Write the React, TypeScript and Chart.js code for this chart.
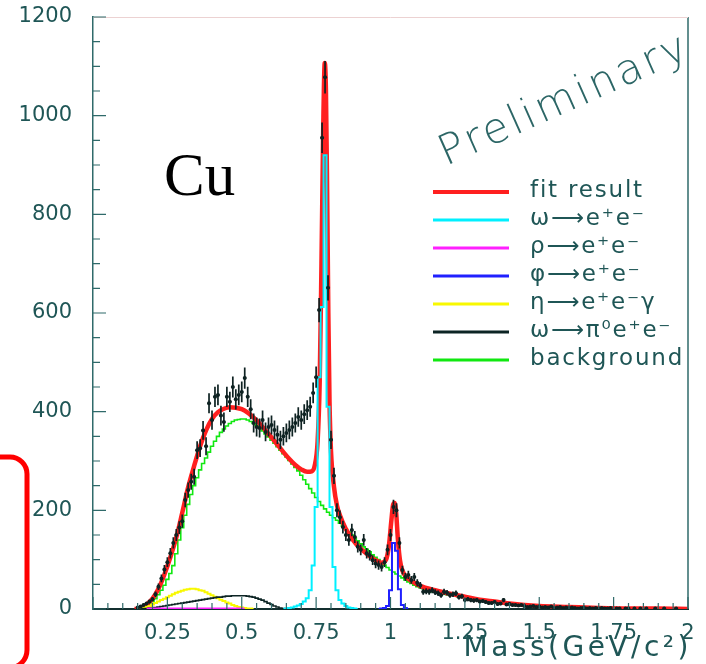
import { useEffect, useRef } from 'react';
import { Chart, registerables } from 'chart.js';

Chart.register(...registerables);

const W = 706;
const H = 664;
const BIN = 0.01;

// Measured data (counts per 0.01 GeV bin, bin centres from 0.15 to 2.00)
const DATA_LO = 0.15;
const DATA_COUNTS = [
  3, 5, 8, 11, 15,
  20, 30, 45, 62, 80, 95, 113, 134, 150, 165,
  178, 221, 241, 258, 268, 322, 326, 362, 330, 417,
  383, 430, 434, 392, 379, 430, 420, 450, 425, 434,
  440, 468, 430, 405, 377, 369, 367, 383, 359, 369,
  373, 363, 353, 343, 350, 357, 363, 369, 377, 389,
  383, 395, 403, 410, 438, 470, 606, 955, 1078, 651,
  343, 270, 200, 186, 166, 150, 140, 160, 146, 126,
  120, 140, 113, 109, 99, 92, 89, 85, 95, 120,
  150, 207, 200, 134, 79, 65, 69, 59, 65, 53,
  48, 35, 36, 35, 38, 34, 32, 28, 35, 33,
  28, 30, 32, 24, 26, 18, 20, 18, 17, 18,
  15, 16, 14, 12, 12, 14, 10, 11, 18, 9,
  10, 8, 8, 7, 8, 6, 4, 5, 6, 4,
  5, 3, 4, 3, 5, 2, 3, 4, 2, 3,
  2, 3, 2, 1, 2, 3, 1, 2, 1, 2,
  1, 2, 1, 1, 2, 0, 1, 1, 0, 1,
  1, 0, 1, 0, 1, 0, 1, 0, 0, 1,
  0, 0, 1, 0, 0, 0, 1, 0, 0, 0, 0,
];

// Fit result curve
const FIT_MASS = [
  0.14, 0.16, 0.18, 0.2, 0.22, 0.24, 0.26, 0.28, 0.3, 0.32, 0.34, 0.36, 0.38, 0.4,
  0.42, 0.44, 0.46, 0.48, 0.5, 0.52, 0.54, 0.56, 0.58, 0.6, 0.62, 0.64, 0.66, 0.68,
  0.7, 0.72, 0.735, 0.745, 0.755, 0.762, 0.768, 0.774, 0.779, 0.783, 0.787, 0.791,
  0.795, 0.8, 0.81, 0.82, 0.83, 0.85, 0.87, 0.89, 0.91, 0.93, 0.95, 0.97, 0.985,
  0.995, 1.003, 1.009, 1.014, 1.019, 1.025, 1.032, 1.04, 1.05, 1.07, 1.1, 1.15, 1.2,
  1.25, 1.3, 1.35, 1.4, 1.45, 1.5, 1.6, 1.7, 1.8, 1.9, 2.0,
];
const FIT_VALUES = [
  0, 2, 9, 21, 41, 70, 105, 145, 195, 247, 290, 330, 362, 385,
  399, 406, 409, 408, 405, 398, 388, 376, 362, 348, 333, 318, 304, 292,
  283, 278, 279, 290, 340, 460, 700, 980, 1107, 1050, 850, 600,
  420, 320, 248, 210, 190, 162, 143, 128, 117, 107, 99, 94, 100,
  130, 180, 212, 215, 195, 140, 98, 78, 67, 57, 47, 38, 31,
  25, 19, 15, 11, 8, 6, 4, 2, 1, 1, 0,
];

// Background (per 0.01 bin, centres from 0.15 to 1.20) and tail
const BG_LO = 0.15;
const BG_VALUES = [
  0, 1, 3, 6, 10,
  15, 21, 29, 38, 48, 60, 72, 88, 112, 140,
  165, 190, 212, 232, 250, 266, 282, 295, 306, 318,
  330, 340, 350, 358, 365, 371, 376, 380, 383, 384,
  385, 385, 383, 380, 376, 372, 367, 361, 355, 349,
  342, 336, 329, 322, 315, 308, 301, 294, 287, 280,
  271, 262, 253, 244, 235, 226, 218, 210, 203, 196,
  190, 185, 180, 174, 168, 162, 156, 150, 144, 138,
  132, 126, 121, 116, 110, 105, 100, 95, 89, 84,
  79, 75, 71, 67, 63, 59, 55, 52, 48, 45,
  43, 41, 39, 37, 35, 34, 33, 31, 30, 29, 28,
];
const BG_TAIL_MASS = [1.25, 1.3, 1.35, 1.4, 1.45, 1.5, 1.6, 1.7, 1.8, 1.9, 2.0];
const BG_TAIL_VALUES = [24, 18, 14, 11, 8, 6, 4, 2, 1, 1, 0];

// omega -> e+e- (centres from 0.64)
const OMEGA_LO = 0.64;
const OMEGA_VALUES = [0, 1, 2, 3, 5, 7, 10, 15, 22, 38, 88, 207, 470, 612, 920, 410, 207, 85, 38, 18, 11, 6, 3, 2, 1, 0];

// rho -> e+e- (centres from 0.18)
const RHO_LO = 0.18;
const RHO_VALUES = [0, 1, 1, 1, 1, 1, 1, 1, 1, 1, 1, 1, 1, 1, 1, 1, 1, 1, 1, 1, 1, 1, 1, 1, 1, 1, 1, 1, 1, 1, 1, 1, 1, 0];

// phi -> e+e- (centres from 0.96)
const PHI_LO = 0.96;
const PHI_VALUES = [0, 1, 2, 6, 38, 134, 118, 40, 8, 2, 0];

// eta -> e+e-gamma (centres from 0.15)
const ETA_LO = 0.15;
const ETA_VALUES = [
  0, 1, 2, 4, 6, 9, 12, 15, 18, 21, 24, 27, 30, 33, 35, 37, 39, 40, 41, 41,
  40, 38, 37, 34, 31, 28, 25, 22, 19, 16, 13, 11, 8, 6, 4, 3, 2, 1, 1, 0,
];

// omega -> pi0 e+e- (centres from 0.15)
const OMDAL_LO = 0.15;
const OMDAL_VALUES = [
  0, 0, 1, 1, 2, 2, 3, 4, 5, 6, 7, 8, 9, 10, 11, 12, 13, 14, 15, 16,
  17, 18, 19, 20, 21, 22, 23, 24, 24, 25, 26, 26, 27, 27, 27, 27, 27, 26, 25, 24,
  22, 20, 18, 15, 12, 9, 6, 4, 2, 1, 0,
];

const LEGEND_LABELS = ['fit result', 'ω⟶e⁺e⁻', 'ρ⟶e⁺e⁻', 'φ⟶e⁺e⁻', 'η⟶e⁺e⁻γ', 'ω⟶π⁰e⁺e⁻', 'background'];
const COL_FIT = '#ff1f1f';
const COL_OMEGA = '#00f0ff';
const COL_RHO = '#ff20ff';
const COL_PHI = '#2020ff';
const COL_ETA = '#f8f800';
const COL_OMDAL = '#0c2424';
const COL_BG = '#10e810';
const LEGEND_COLORS = [COL_FIT, COL_OMEGA, COL_RHO, COL_PHI, COL_ETA, COL_OMDAL, COL_BG];

const X_MIN = 0;
const X_MAX = 2;
const X_STEP = 0.25;
const Y_MIN = 0;
const Y_MAX = 1200;
const Y_STEP = 200;
const X_TITLE = 'Mass(GeV/c²)';
const TARGET = 'Cu';
const STAMP = 'Preliminary';

const TEXT_COL = '#1f5656';
const AXIS_COL = '#2f6a6a';

function hist(lo: number, values: number[]) {
  return values.map((v, i) => ({ x: +(lo + i * BIN).toFixed(3), y: v }));
}
function pairs(xs: number[], ys: number[]) {
  return xs.map((x, i) => ({ x, y: ys[i] }));
}

const decor = {
  id: 'decor',
  afterDatasetsDraw(chart: any) {
    const { ctx, chartArea: a, scales } = chart;
    const x = scales.x;
    const y = scales.y;
    ctx.save();
    ctx.beginPath();
    ctx.rect(a.left, a.top, a.right - a.left, a.bottom - a.top);
    ctx.clip();
    ctx.strokeStyle = '#0e2222';
    ctx.lineWidth = 1.7;
    DATA_COUNTS.forEach((n, i) => {
      if (n <= 0) return;
      const m = DATA_LO + i * BIN;
      const px = x.getPixelForValue(m);
      const e = Math.sqrt(n);
      ctx.beginPath();
      ctx.moveTo(px, y.getPixelForValue(n - e));
      ctx.lineTo(px, y.getPixelForValue(n + e));
      const py = y.getPixelForValue(n);
      ctx.moveTo(px - 1.5, py);
      ctx.lineTo(px + 1.5, py);
      ctx.stroke();
    });
    ctx.restore();
  },
  afterDraw(chart: any) {
    const { ctx, chartArea: a, scales } = chart;
    const x = scales.x;
    const y = scales.y;
    ctx.save();
    // frame: right and top
    ctx.strokeStyle = AXIS_COL;
    ctx.lineWidth = 1.5;
    ctx.beginPath();
    ctx.moveTo(a.right, a.top);
    ctx.lineTo(a.right, a.bottom);
    ctx.stroke();
    ctx.strokeStyle = '#ecd2d2';
    ctx.lineWidth = 1;
    ctx.beginPath();
    ctx.moveTo(a.left, a.top + 0.5);
    ctx.lineTo(a.right, a.top + 0.5);
    ctx.stroke();
    // inward ticks
    ctx.strokeStyle = AXIS_COL;
    ctx.lineWidth = 1.2;
    ctx.beginPath();
    for (let k = 0; k <= 40; k++) {
      const v = X_MIN + k * 0.05;
      const px = x.getPixelForValue(v);
      const len = k % 5 === 0 ? 12 : 6;
      ctx.moveTo(px, a.bottom);
      ctx.lineTo(px, a.bottom - len);
    }
    for (let k = 0; k <= 24; k++) {
      const v = Y_MIN + k * 50;
      const py = y.getPixelForValue(v);
      const len = k % 4 === 0 ? 13 : 7;
      ctx.moveTo(a.left, py);
      ctx.lineTo(a.left + len, py);
    }
    ctx.stroke();

    // legend
    const lx0 = 433;
    const lx1 = 509;
    const ly0 = 192;
    const dy = 28;
    ctx.font = '23px "DejaVu Sans"';
    (ctx as any).letterSpacing = '1.8px';
    ctx.textBaseline = 'middle';
    ctx.textAlign = 'left';
    LEGEND_LABELS.forEach((lab, i) => {
      const yy = ly0 + i * dy;
      ctx.strokeStyle = LEGEND_COLORS[i];
      ctx.lineWidth = i === 0 ? 4 : 3;
      ctx.beginPath();
      ctx.moveTo(lx0, yy);
      ctx.lineTo(lx1, yy);
      ctx.stroke();
      ctx.fillStyle = TEXT_COL;
      ctx.fillText(lab, 530, yy - 1);
    });

    // axis title
    ctx.font = '28px "DejaVu Sans"';
    (ctx as any).letterSpacing = '3.5px';
    ctx.textAlign = 'right';
    ctx.textBaseline = 'alphabetic';
    ctx.fillStyle = TEXT_COL;
    ctx.fillText(X_TITLE, a.right + 4, 656);

    // Cu
    (ctx as any).letterSpacing = '0px';
    ctx.font = '61px "Liberation Serif"';
    ctx.fillStyle = '#000000';
    ctx.textAlign = 'left';
    ctx.fillText(TARGET, 164, 195);

    // Preliminary stamp
    ctx.save();
    ctx.translate(446, 166);
    ctx.rotate(-24 * Math.PI / 180);
    ctx.font = '200 42px "DejaVu Sans"';
    (ctx as any).letterSpacing = '3px';
    ctx.fillStyle = '#2c6666';
    ctx.fillText(STAMP, 0, 0);
    ctx.restore();

    // red bracket at left
    ctx.strokeStyle = '#ff0000';
    ctx.lineWidth = 5;
    ctx.beginPath();
    ctx.moveTo(-5, 457);
    ctx.lineTo(10, 457);
    ctx.arcTo(27, 457, 27, 474, 17);
    ctx.lineTo(27, 650);
    ctx.arcTo(27, 668, 9, 668, 18);
    ctx.lineTo(-5, 668);
    ctx.stroke();
    ctx.restore();
  },
};

function step(data: any[], color: string, width: number, order: number) {
  return {
    data,
    showLine: true,
    stepped: 'middle',
    borderColor: color,
    borderWidth: width,
    pointRadius: 0,
    fill: false,
    order,
  };
}

export default function App() {
  const ref = useRef<HTMLCanvasElement>(null);
  useEffect(() => {
    const chart = new Chart(ref.current as HTMLCanvasElement, {
      type: 'scatter',
      data: {
        datasets: [
          {
            label: 'data',
            data: hist(DATA_LO, DATA_COUNTS).filter((p) => p.y > 0),
            pointRadius: 2,
            pointBackgroundColor: '#0e2222',
            pointBorderWidth: 0,
            showLine: false,
            order: 1,
          } as any,
          { label: 'omega', ...step(hist(OMEGA_LO, OMEGA_VALUES), COL_OMEGA, 2, 4) } as any,
          { label: 'phi', ...step(hist(PHI_LO, PHI_VALUES), COL_PHI, 2, 5) } as any,
          { label: 'rho', ...step(hist(RHO_LO, RHO_VALUES), COL_RHO, 2, 6) } as any,
          { label: 'omdal', ...step(hist(OMDAL_LO, OMDAL_VALUES), COL_OMDAL, 1.6, 7) } as any,
          { label: 'eta', ...step(hist(ETA_LO, ETA_VALUES), COL_ETA, 2, 8) } as any,
          {
            label: 'fit',
            data: pairs(FIT_MASS, FIT_VALUES),
            showLine: true,
            borderColor: COL_FIT,
            borderWidth: 4.5,
            pointRadius: 0,
            cubicInterpolationMode: 'monotone',
            fill: false,
            order: 9,
          } as any,
          {
            label: 'bg',
            ...step(hist(BG_LO, BG_VALUES).concat(pairs(BG_TAIL_MASS, BG_TAIL_VALUES)), COL_BG, 1.6, 10),
          } as any,
        ],
      },
      options: {
        animation: false,
        responsive: false,
        devicePixelRatio: 1,
        events: [],
        layout: { padding: { top: 17, right: 18, left: 0, bottom: 0 } },
        plugins: { legend: { display: false }, tooltip: { enabled: false } },
        scales: {
          x: {
            type: 'linear',
            min: X_MIN,
            max: X_MAX,
            afterFit: (s: any) => {
              s.height = 55;
              s.paddingLeft = 0;
              s.paddingRight = 0;
            },
            grid: { display: false },
            border: { display: true, color: '#132f2f', width: 2 },
            ticks: {
              stepSize: X_STEP,
              autoSkip: false,
              maxRotation: 0,
              padding: 4,
              color: TEXT_COL,
              font: { family: '"DejaVu Sans"', size: 21 },
              callback: (v: any) => (Number(v) === 0 ? '' : String(Number(Number(v).toFixed(2)))),
            },
          },
          y: {
            type: 'linear',
            min: Y_MIN,
            max: Y_MAX,
            afterFit: (s: any) => {
              s.width = 93;
              s.paddingTop = 0;
              s.paddingBottom = 0;
            },
            grid: { display: false },
            border: { display: true, color: AXIS_COL, width: 1.5 },
            ticks: {
              stepSize: Y_STEP,
              autoSkip: false,
              padding: 13,
              color: TEXT_COL,
              font: { family: '"DejaVu Sans"', size: 21 },
              callback: (v: any) => String(v),
            },
          },
        },
      } as any,
      plugins: [decor],
    });
    return () => chart.destroy();
  }, []);
  return (
    <div style={{ position: 'fixed', left: 0, top: 0, width: W, height: H, background: '#ffffff' }}>
      <canvas ref={ref} width={W} height={H} style={{ width: W, height: H, display: 'block' }} />
    </div>
  );
}
